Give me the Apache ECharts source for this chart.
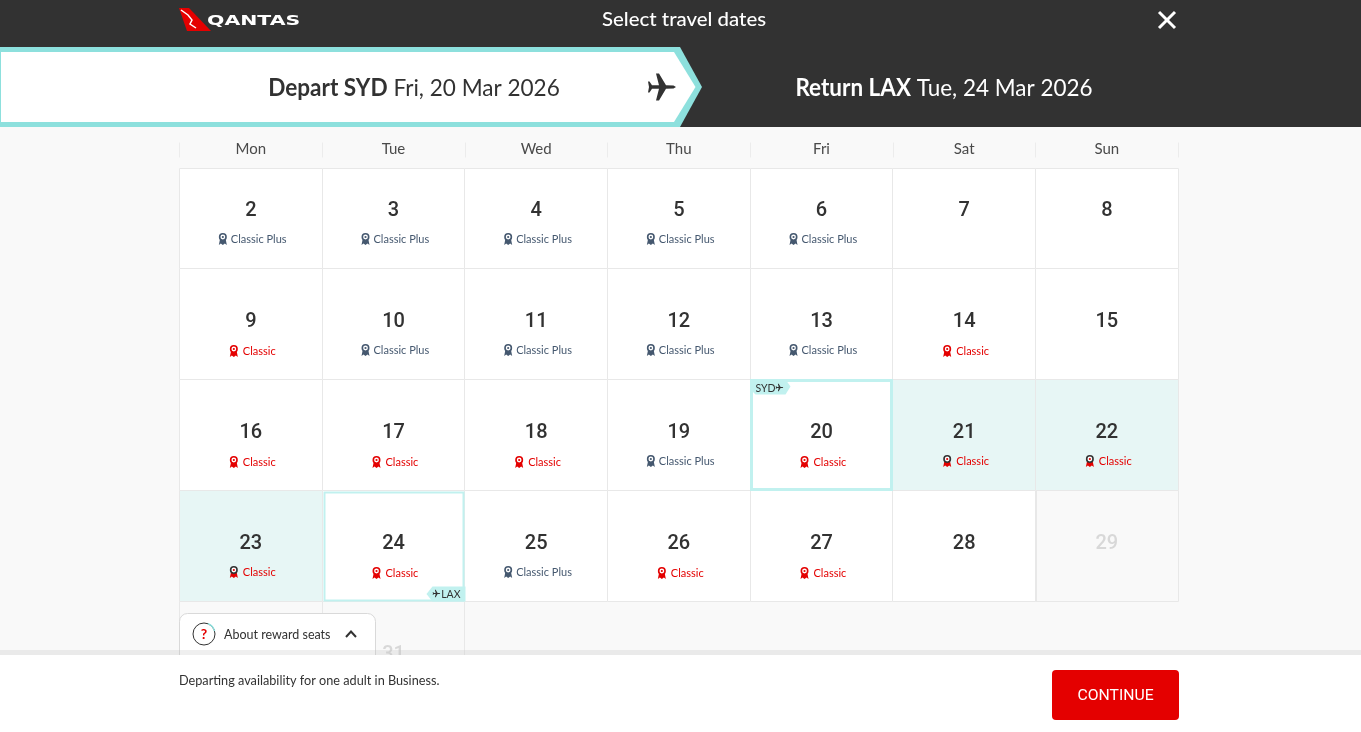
<!DOCTYPE html>
<html><head><meta charset="utf-8">
<style>html,body{margin:0;padding:0;background:#f9f9f9}#c{width:1361px;height:732px}</style>
<script src="https://cdn.jsdelivr.net/npm/echarts@6/dist/echarts.min.js"></script>
</head><body><div id="c"></div>
<script>
const weekdays = ['Mon','Tue','Wed','Thu','Fri','Sat','Sun'];
const weeks = ['w1','w2','w3','w4','w5'];
const dayNumbers = [2,3,4,5,6,7,8, 9,10,11,12,13,14,15, 16,17,18,19,20,21,22, 23,24,25,26,27,28,29, 30,31];
const fareLabels = {C:'Classic', P:'Classic Plus'};
const fares = ['P','P','P','P','P','','', 'C','P','P','P','P','C','', 'C','C','C','P','C','C','C', 'C','C','P','C','C','','', '',''];
const cellStates = ['','','','','','','', '','','','','','','', '','','','','depart','range','range', 'range','return','','','','','off', 'off','off'];
const tripTags = {depart:'SYD', return:'LAX'};

const FONT = 'Lato, "Noto Sans", sans-serif';
const ink = '#323232', line = '#e8e8e8', red = '#e40000', blue = '#45586f', teal = '#8de0dd', pale = '#c1f1ef';
const HEADER_BOTTOM = 168.5;
const snap = v => Math.round(v - .5) + .5;

function ribbon(x, y, color, ring) {
  return [
    {type:'polygon', z2:6, shape:{points:[[x-3,y+1],[x+3,y+1],[x+4,y+6],[x+2,y+4.5],[x,y+6],[x-2,y+4.5],[x-4,y+6]]}, style:{fill:color}},
    {type:'circle', z2:7, shape:{cx:x, cy:y-2, r:3.2}, style:{fill:'#fff', stroke:ring || color, lineWidth:1.6}},
    {type:'circle', z2:7, shape:{cx:x, cy:y-2, r:1.1}, style:{fill:color}}
  ];
}
function planeShape(cx, cy, s, dir) {
  const half = [[14,0],[11.5,-1.6],[4,-1.7],[-3,-13.5],[-6,-13.5],[-3,-1.7],[-10,-1.7],[-12.5,-5.5],[-14,-5.5],[-13,0]];
  const pts = half.concat(half.slice(1,-1).reverse().map(p=>[p[0],-p[1]]));
  return pts.map(p=>[cx + dir*p[0]*s, cy + p[1]*s]);
}

function renderCell(params, api) {
  const i = params.dataIndex;
  const p = api.coord([api.value(0), api.value(1)]);
  const sz = api.size([1,1]);
  const x0 = snap(p[0]-sz[0]/2), x1 = snap(p[0]+sz[0]/2);
  const yTop = snap(p[1]-sz[1]/2), y1 = snap(p[1]+sz[1]/2);
  const y0 = Math.max(yTop, HEADER_BOTTOM);
  const cx = p[0], cy = p[1];
  const state = cellStates[i], fare = fares[i];
  const chosen = state === 'depart' || state === 'return';
  const fill = state === 'range' ? '#e7f6f5' : state === 'off' ? '#f9f9f9' : '#fff';
  const kids = [{type:'rect', z2:chosen?2:1, shape:{x:x0,y:y0,width:x1-x0,height:y1-y0}, style:{fill, stroke:line, lineWidth:1}}];
  if (state === 'off' && i % 7 !== 0 && cellStates[i-1] !== 'off') {
    kids.push({type:'line', z2:2, shape:{x1:x0+1,y1:y0,x2:x0+1,y2:y1}, style:{stroke:line, lineWidth:1}});
  }
  if (chosen) {
    const d = state === 'depart';
    kids.push({type:'rect', z2:3, shape:{x:x0+(d?1:2),y:y0+(d?1:2),width:x1-x0-(d?2:3),height:y1-y0-(d?2:3)}, style:{fill:'#fff', stroke:pale, lineWidth:d?3:2}});
  }
  kids.push({type:'text', z2:5, style:{x:cx, y:cy-2, text:String(dayNumbers[i]), fill: state==='off' ? '#d8d8d8' : ink, font:'500 20px Roboto, sans-serif', align:'center', verticalAlign:'middle'}});
  if (fare) {
    const plus = fare === 'P';
    const color = plus ? blue : red;
    const ly = cy + 26 + ((!plus && state !== 'range') ? 1 : 0);
    const ix = cx + (plus ? -28 : -17), tx = cx + (plus ? -20 : -8);
    ribbon(ix, ly, color, state==='range' ? ink : null).forEach(k=>kids.push(k));
    kids.push({type:'text', z2:5, style:{x:tx, y:ly, text:fareLabels[fare], fill:color, font:'11px '+FONT, align:'left', verticalAlign:'middle'}});
  }
  if (state === 'depart') {
    kids.push({type:'polygon', z2:6, shape:{points:[[x0,y0],[x0+35,y0],[x0+40,y0+7],[x0+35,y0+15],[x0+5,y0+15],[x0,y0+10]]}, style:{fill:pale}});
    kids.push({type:'text', z2:7, style:{x:x0+5, y:y0+9, text:tripTags.depart, fill:ink, font:'10.5px '+FONT, align:'left', verticalAlign:'middle'}});
    kids.push({type:'polygon', z2:7, shape:{points:planeShape(x0+29, y0+8, .27, 1)}, style:{fill:ink}});
  }
  if (state === 'return') {
    kids.push({type:'polygon', z2:6, shape:{points:[[x1-32,y1-15],[x1+1,y1-15],[x1+1,y1],[x1-32,y1],[x1-38,y1-7.5]]}, style:{fill:pale}});
    kids.push({type:'text', z2:7, style:{x:x1-4, y:y1-7, text:tripTags.return, fill:ink, font:'10.5px '+FONT, align:'right', verticalAlign:'middle'}});
    kids.push({type:'polygon', z2:7, shape:{points:planeShape(x1-28, y1-8, .27, 1)}, style:{fill:ink}});
  }
  return {type:'group', children:kids};
}

const cellData = dayNumbers.map((d,i)=>[i%7, Math.floor(i/7)]);

const chrome = [
  {type:'rect', z:1, shape:{x:0,y:0,width:1361,height:127}, style:{fill:ink}},
  {type:'polygon', z:2, shape:{points:[[0,47],[680,47],[702,87],[680,127],[0,127]]}, style:{fill:teal}},
  {type:'polygon', z:3, shape:{points:[[1,52],[674,52],[695.5,87],[674,122],[1,122]]}, style:{fill:'#fff'}},
  {type:'polygon', z:4, shape:{points:planeShape(662,87,1,1)}, style:{fill:ink}},
  // logo
  {type:'polygon', z:4, shape:{points:[[179,8],[189,8],[211,31],[187,31]]}, style:{fill:red}},
  {type:'polyline', z:5, shape:{points:[[181,10],[188,15],[192,20],[190,24],[196,28]]}, style:{stroke:'#fff', lineWidth:1.5, fill:'none'}},
  {type:'text', z:5, x:207, y:21, scaleX:1.46, style:{text:'QANTAS', fill:'#fff', font:'bold 14px "DejaVu Sans", sans-serif', align:'left', verticalAlign:'middle'}},
  {type:'text', z:5, x:684, y:20, scaleX:1.02, style:{text:'Select travel dates', fill:'#fff', font:'500 20px '+FONT, align:'center', verticalAlign:'middle'}},
  {type:'line', z:5, shape:{x1:1159,y1:12,x2:1175,y2:28}, style:{stroke:'#fff', lineWidth:3}},
  {type:'line', z:5, shape:{x1:1175,y1:12,x2:1159,y2:28}, style:{stroke:'#fff', lineWidth:3}},
  {type:'text', z:5, x:414, y:88, scaleX:.94, style:{text:'{b|Depart SYD} Fri, 20 Mar 2026', rich:{b:{font:'bold 24px '+FONT, fill:ink}}, fill:ink, font:'24px '+FONT, align:'center', verticalAlign:'middle'}},
  {type:'text', z:5, x:944, y:88, scaleX:.937, style:{text:'{b|Return LAX} Tue, 24 Mar 2026', rich:{b:{font:'bold 24px '+FONT, fill:'#fff'}}, fill:'#fff', font:'24px '+FONT, align:'center', verticalAlign:'middle'}},
  // about box
  {type:'rect', z:6, shape:{x:179.5,y:613.5,width:196,height:60,r:8}, style:{fill:'#fff', stroke:'#d9d9d9', lineWidth:1}},
  {type:'circle', z:7, shape:{cx:204,cy:634,r:11}, style:{fill:'#fff', stroke:ink, lineWidth:1}},
  {type:'arc', z:7, shape:{cx:204,cy:634,r:11,startAngle:-Math.PI/2.6,endAngle:-Math.PI/12}, style:{stroke:teal, lineWidth:1.4, fill:'none'}},
  {type:'text', z:7, style:{x:204, y:634, text:'?', fill:red, font:'bold 14px '+FONT, align:'center', verticalAlign:'middle'}},
  {type:'text', z:7, style:{x:224, y:635, text:'About reward seats', fill:ink, font:'12.5px '+FONT, align:'left', verticalAlign:'middle'}},
  {type:'polyline', z:7, shape:{points:[[346,637],[351,631.5],[356,637]]}, style:{stroke:ink, lineWidth:2, fill:'none'}},
  // footer
  {type:'rect', z:8, shape:{x:0,y:650,width:1361,height:5}, style:{fill:'rgba(190,190,190,0.25)'}},
  {type:'rect', z:9, shape:{x:0,y:655,width:1361,height:77}, style:{fill:'#fff'}},
  {type:'text', z:10, style:{x:179, y:681, text:'Departing availability for one adult in Business.', fill:ink, font:'12.7px '+FONT, align:'left', verticalAlign:'middle'}},
  {type:'rect', z:10, shape:{x:1052,y:670,width:127,height:50,r:4}, style:{fill:red}},
  {type:'text', z:11, x:1115.5, y:696, scaleX:1.05, style:{text:'CONTINUE', fill:'#fff', font:'15px Roboto, sans-serif', align:'center', verticalAlign:'middle'}}
];

const chart = echarts.init(document.getElementById('c'), null, {renderer:'canvas'});
chart.setOption({
  animation:false,
  backgroundColor:'#f9f9f9',
  grid:{left:179.5, top:157.5, width:998.7, height:555},
  xAxis:{type:'category', position:'top', data:weekdays, axisLine:{show:false},
    axisTick:{show:true, length:15, lineStyle:{color:'#ececec'}},
    axisLabel:{color:'#4a4a4a', fontFamily:'Lato', fontSize:15, margin:0, lineHeight:17}},
  yAxis:{type:'category', inverse:true, data:weeks, show:false},
  series:[{type:'custom', coordinateSystem:'cartesian2d', data:cellData, encode:{x:0,y:1}, renderItem:renderCell, clip:false, z:2, silent:true}],
  graphic:{z:100, elements:chrome}
});
</script></body></html>
